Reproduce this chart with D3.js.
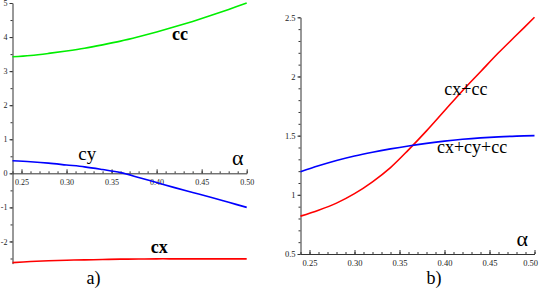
<!DOCTYPE html>
<html>
<head>
<meta charset="utf-8">
<script src="https://cdn.jsdelivr.net/npm/d3@7"></script>
<style>
  body { margin: 0; background: #fff; }
  svg { display: block; }
</style>
</head>
<body>
<div id="canvas"></div>
<script>
// alpha values the curves were sampled at
const alpha = [0.24, 0.26, 0.28, 0.30, 0.32, 0.34, 0.36, 0.38, 0.40, 0.42, 0.44, 0.46, 0.48, 0.50];

// panel a)
const cc = [3.42, 3.46, 3.52, 3.59, 3.67, 3.77, 3.88, 4.01, 4.15, 4.30, 4.46, 4.63, 4.81, 5.0];
const cy = [0.37, 0.34, 0.30, 0.245, 0.19, 0.11, 0.02, -0.12, -0.27, -0.42, -0.56, -0.70, -0.85, -1.0];
const cx = [-2.62, -2.59, -2.565, -2.55, -2.54, -2.53, -2.52, -2.515, -2.51, -2.51, -2.51, -2.51, -2.51, -2.51];

// panel b)
const cxcc = [0.82, 0.87, 0.93, 1.01, 1.11, 1.23, 1.38, 1.54, 1.71, 1.88, 2.04, 2.20, 2.35, 2.50];
const cxcycc = [1.195, 1.245, 1.29, 1.328, 1.36, 1.388, 1.413, 1.435, 1.454, 1.469, 1.481, 1.49, 1.496, 1.50];

const xTicks = [0.25, 0.30, 0.35, 0.40, 0.45, 0.50];
const yTicksA = [-2, -1, 0, 1, 2, 3, 4, 5];
const yTicksB = [0.5, 1, 1.5, 2, 2.5];

const SERIF = "'Liberation Serif', 'DejaVu Serif', 'Times New Roman', Times, serif";
const width = 542, height = 288;
const svg = d3.select("#canvas").append("svg")
  .attr("width", width).attr("height", height);

function minorTicks(lo, hi, step) {
  const out = [];
  for (let i = Math.round(lo / step); i * step <= hi + 1e-9; i++) out.push(+(i * step).toFixed(4));
  return out;
}

function drawCurve(g, x, y, vals, color) {
  const line = d3.line()
    .x((d, i) => x(alpha[i]))
    .y(d => y(d))
    .curve(d3.curveCatmullRom);
  g.append("path")
    .attr("d", line(vals))
    .attr("fill", "none")
    .attr("stroke", color)
    .attr("stroke-width", 1.6);
}

function label(g, txt, x, y, size, weight) {
  g.append("text")
    .attr("x", x).attr("y", y)
    .attr("text-anchor", "middle")
    .attr("font-family", SERIF)
    .attr("font-size", size)
    .attr("font-weight", weight || "normal")
    .attr("fill", "#000")
    .text(txt);
}

function styleTicks(g, size) {
  g.attr("font-family", SERIF);
  g.selectAll(".tick text").attr("font-size", size).attr("fill", "#222");
  g.selectAll("line, path").attr("stroke", "#333");
}

// ---------- panel a ----------
const xA = d3.scaleLinear().domain([0.24, 0.50]).range([12.5, 246.7]);
const yA = d3.scaleLinear().domain([-2.65, 5]).range([263.6, 3]);
const gA = svg.append("g");

// y axis
gA.append("g")
  .attr("transform", `translate(${xA(0.24)},0)`)
  .call(d3.axisLeft(yA).tickValues(minorTicks(-2.5, 5, 0.5)).tickSize(2).tickFormat(""))
  .call(g => g.select(".domain").remove())
  .call(g => styleTicks(g, 8));
gA.append("g")
  .attr("transform", `translate(${xA(0.24)},0)`)
  .call(d3.axisLeft(yA).tickValues(yTicksA).tickSize(3).tickPadding(2).tickFormat(d => String(d)).tickSizeOuter(0))
  .call(g => styleTicks(g, 8));

// x axis through y = 0
gA.append("g")
  .attr("transform", `translate(0,${yA(0)})`)
  .call(d3.axisBottom(xA).tickValues(minorTicks(0.24, 0.50, 0.01)).tickSize(-2).tickFormat(""))
  .call(g => g.select(".domain").remove())
  .call(g => styleTicks(g, 8));
gA.append("g")
  .attr("transform", `translate(0,${yA(0)})`)
  .call(d3.axisBottom(xA).tickValues(xTicks).tickSize(-4).tickPadding(6).tickFormat(d3.format(".2f")).tickSizeOuter(0))
  .call(g => styleTicks(g, 8));

drawCurve(gA, xA, yA, cc, "#00ee00");
drawCurve(gA, xA, yA, cy, "#0000ff");
drawCurve(gA, xA, yA, cx, "#ff0000");

label(gA, "cc", xA(0.426), yA(3.91), 18, "bold");
label(gA, "cy", xA(0.323), yA(0.39), 19);
label(gA, "α", xA(0.49), yA(0.24), 22);
label(gA, "cx", xA(0.403), yA(-2.34), 18, "bold");
label(gA, "a)", xA(0.33), 284, 18);

// ---------- panel b ----------
const xB = d3.scaleLinear().domain([0.24, 0.50]).range([300.5, 534.5]);
const yB = d3.scaleLinear().domain([0.5, 2.5]).range([254, 17.3]);
const gB = svg.append("g");

gB.append("g")
  .attr("transform", `translate(${xB(0.24)},0)`)
  .call(d3.axisLeft(yB).tickValues(minorTicks(0.5, 2.5, 0.1)).tickSize(2).tickFormat(""))
  .call(g => g.select(".domain").remove())
  .call(g => styleTicks(g, 8.5));
gB.append("g")
  .attr("transform", `translate(${xB(0.24)},0)`)
  .call(d3.axisLeft(yB).tickValues(yTicksB).tickSize(3).tickPadding(2).tickFormat(d => String(d)).tickSizeOuter(0))
  .call(g => styleTicks(g, 8.5));

gB.append("g")
  .attr("transform", `translate(0,${yB(0.5)})`)
  .call(d3.axisBottom(xB).tickValues(minorTicks(0.24, 0.50, 0.01)).tickSize(-2).tickFormat(""))
  .call(g => g.select(".domain").remove())
  .call(g => styleTicks(g, 8.5));
gB.append("g")
  .attr("transform", `translate(0,${yB(0.5)})`)
  .call(d3.axisBottom(xB).tickValues(xTicks).tickSize(-4).tickPadding(6).tickFormat(d3.format(".2f")).tickSizeOuter(0))
  .call(g => styleTicks(g, 8.5))
  .call(g => g.selectAll(".tick text").filter(d => d === 0.5).attr("text-anchor", "end").attr("dx", 3));

drawCurve(gB, xB, yB, cxcc, "#ff0000");
drawCurve(gB, xB, yB, cxcycc, "#0000ff");

label(gB, "cx+cc", xB(0.4238), yB(1.845), 18);
label(gB, "cx+cy+cc", xB(0.4306), yB(1.355), 18);
label(gB, "α", xB(0.4865), yB(0.567), 22);
label(gB, "b)", xB(0.3883), 284, 18);
</script>
</body>
</html>
